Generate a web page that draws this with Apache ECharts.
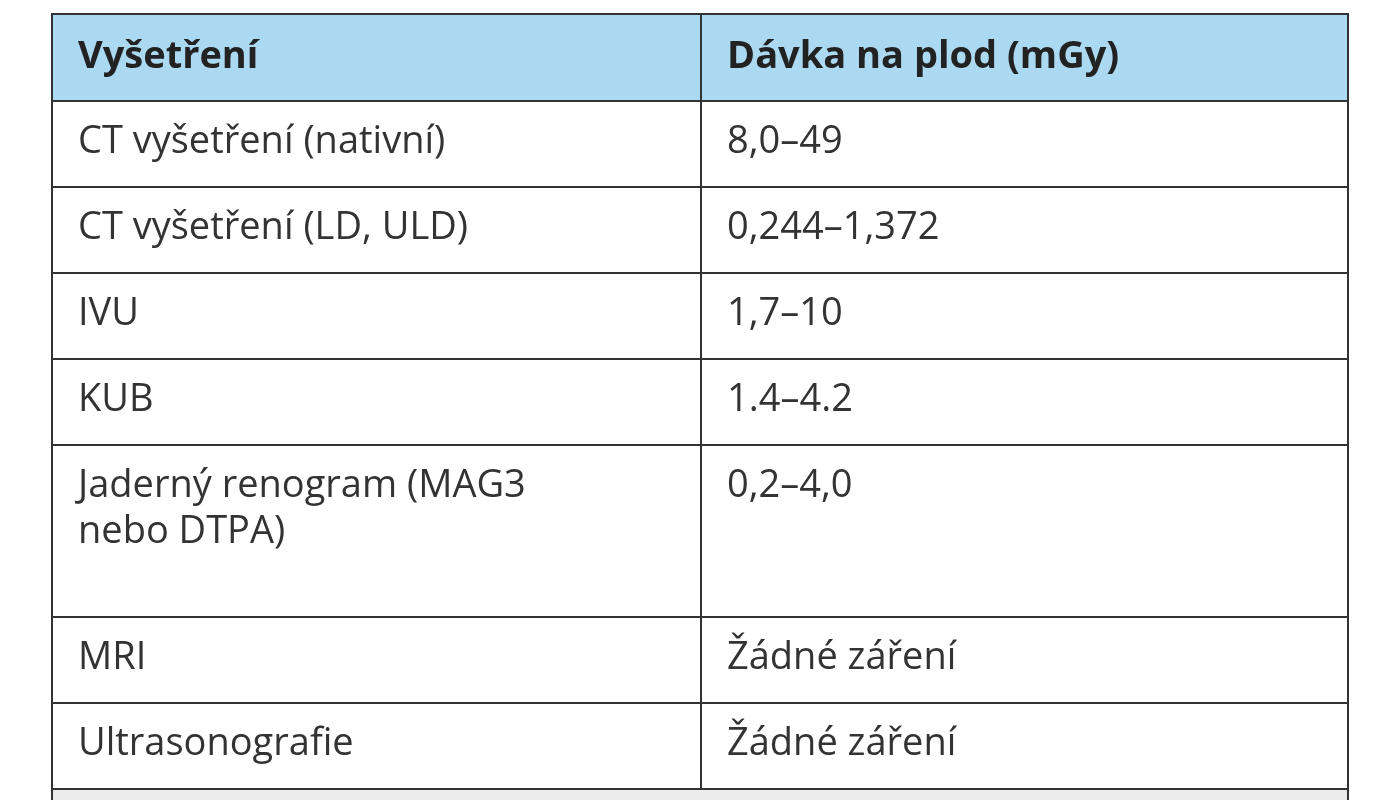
<!DOCTYPE html>
<html><head><meta charset="utf-8">
<script src="https://cdn.jsdelivr.net/npm/echarts@6/dist/echarts.min.js"></script>
<style>html,body{margin:0;background:#fff}#c{width:1384px;height:800px}</style>
</head><body><div id="c"></div>
<script>
// table content
var headers = ['Vyšetření', 'Dávka na plod (mGy)'];
var exams = ['CT vyšetření (nativní)', 'CT vyšetření (LD, ULD)', 'IVU', 'KUB',
    'Jaderný renogram (MAG3\nnebo DTPA)', 'MRI', 'Ultrasonografie'];
var doses = ['8,0–49', '0,244–1,372', '1,7–10', '1.4–4.2', '0,2–4,0', 'Žádné záření', 'Žádné záření'];
var rowLines = [1, 1, 1, 1, 2, 1, 1];

var chart = echarts.init(document.getElementById('c'));
var tLeft = 52, tRight = 1348, tMid = 701, tTop = 14, headH = 87, lineH = 86;
var els = [];
var font = '"Open Sans", "DejaVu Sans", sans-serif';

// header
els.push({type: 'rect', shape: {x: tLeft, y: tTop, width: tRight - tLeft, height: headH},
    style: {fill: '#abd9f1', stroke: '#333', lineWidth: 2}});
els.push({type: 'text', x: tLeft + 26, y: tTop + headH / 2, style: {text: headers[0], font: 'bold 38px ' + font, fill: '#222', verticalAlign: 'middle'}});
els.push({type: 'text', x: tMid + 26, y: tTop + headH / 2, style: {text: headers[1], font: 'bold 38px ' + font, fill: '#222', verticalAlign: 'middle'}});

var rowY = tTop + headH;
for (var i = 0; i < exams.length; i++) {
    var h = lineH * rowLines[i];
    els.push({type: 'rect', shape: {x: tLeft, y: rowY, width: tRight - tLeft, height: h},
        style: {fill: '#fff', stroke: '#333', lineWidth: 2}});
    els.push({type: 'text', x: tLeft + 26, y: rowY + 18, style: {text: exams[i], font: '38px ' + font, fill: '#333', lineHeight: 46}});
    els.push({type: 'text', x: tMid + 26, y: rowY + 18, style: {text: doses[i], font: '38px ' + font, fill: '#333', lineHeight: 46}});
    rowY += h;
}
var tBottom = rowY;
els.push({type: 'line', shape: {x1: tMid, y1: tTop, x2: tMid, y2: tBottom}, style: {stroke: '#333', lineWidth: 2}});
// grey strip below the table
els.push({type: 'rect', shape: {x: tLeft, y: tBottom, width: tRight - tLeft, height: 30},
    style: {fill: '#ececec', stroke: '#333', lineWidth: 2}});

chart.setOption({animation: false, graphic: els});
</script></body></html>
